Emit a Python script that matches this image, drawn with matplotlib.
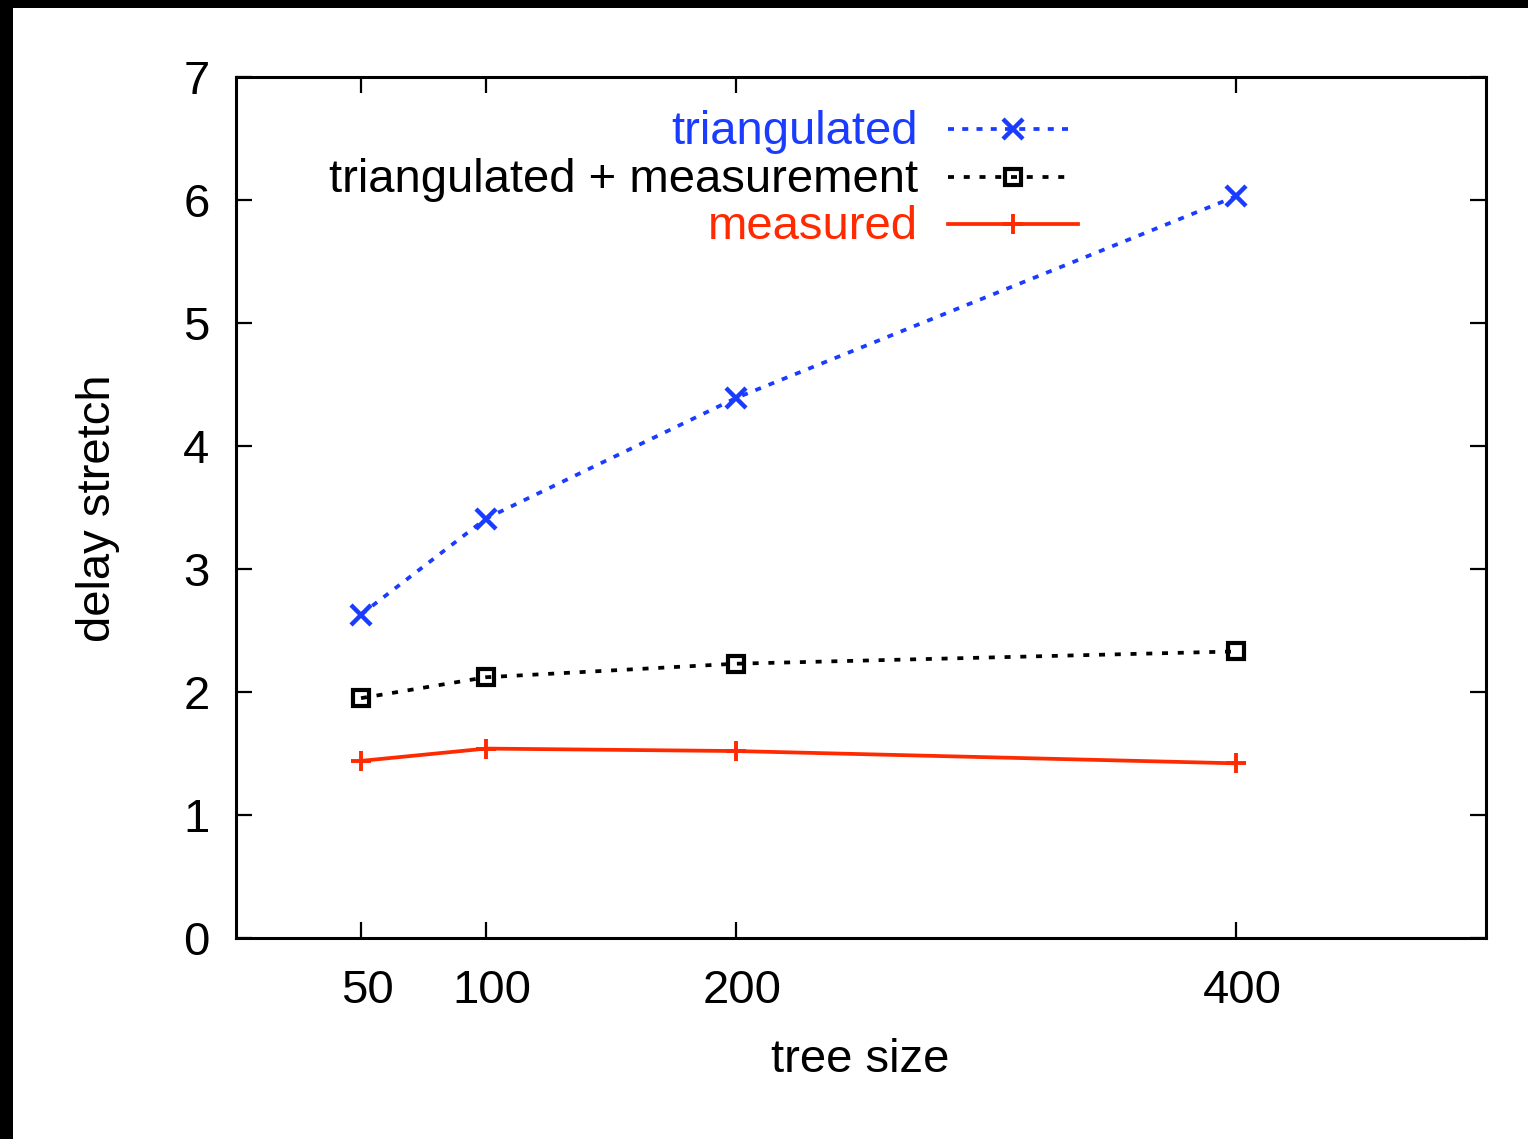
import matplotlib
matplotlib.use("Agg")
import matplotlib.pyplot as plt
from matplotlib.lines import Line2D
from matplotlib.transforms import ScaledTranslation

tree_size = [50, 100, 200, 400]
triangulated = [2.63, 3.41, 4.39, 6.03]
tri_plus_meas = [1.95, 2.12, 2.23, 2.33]
measured = [1.44, 1.54, 1.52, 1.42]
x_ticks = [50, 100, 200, 400]
y_ticks = [0, 1, 2, 3, 4, 5, 6, 7]
labels = ["triangulated", "triangulated + measurement", "measured"]

BLUE = "#1a3cff"
RED = "#ff2a00"
BLACK = "#000000"

plt.rcParams['font.family'] = ['Liberation Sans', 'DejaVu Sans']

W, H = 1528, 1139
dpi = 100
FS = 34
fig = plt.figure(figsize=(W / dpi, H / dpi), dpi=dpi, facecolor="black")
# white page area
bg = fig.add_axes([13 / W, 0, 1 - 13 / W, 1 - 8 / H], zorder=-5)
bg.set_facecolor("white")
bg.set_xticks([])
bg.set_yticks([])
for s in bg.spines.values():
    s.set_visible(False)

ax = fig.add_axes([236 / W, 1 - 938 / H, (1486 - 236) / W, (938 - 77) / H], zorder=1)
ax.set_facecolor("white")
ax.set_xlim(0, 500)
ax.set_ylim(0, 7)
for s in ax.spines.values():
    s.set_linewidth(2.2)

lw = 2.7
blue_ls = (0, (1.6, 2.2))
black_ls = (0, (1.6, 2.6))
ax.plot(tree_size, triangulated, color=BLUE, lw=lw, linestyle=blue_ls,
        marker="x", markersize=14, markeredgewidth=3.2, clip_on=False)
ax.plot(tree_size, tri_plus_meas, color=BLACK, lw=lw, linestyle=black_ls,
        marker="s", markersize=12, markeredgewidth=3.0, markerfacecolor="none", clip_on=False)
ax.plot(tree_size, measured, color=RED, lw=lw, linestyle="-",
        marker="+", markersize=14, markeredgewidth=2.8, clip_on=False)

ax.set_xticks(x_ticks)
ax.set_xticklabels([str(v) for v in x_ticks])
ax.set_yticks(y_ticks)
ax.set_yticklabels([str(v) for v in y_ticks])
ax.tick_params(direction="in", length=11.5, width=1.6, labelsize=FS,
               top=True, right=True, pad=19)
ax.tick_params(axis="x", pad=22.5)
for lab in ax.get_xticklabels():
    lab.set_transform(lab.get_transform() + ScaledTranslation(6 / dpi, 0, fig.dpi_scale_trans))

fig.text(98 / W, 1 - 508 / H, "delay stretch", rotation=90, fontsize=FS,
         ha="center", va="center")
fig.text(860 / W, 1 - 1060 / H, "tree size", fontsize=FS, ha="center", va="center")

# legend (gnuplot style: text right-aligned, sample to the right)
rows_y = [129, 177, 224]
colors = [BLUE, BLACK, RED]
styles = [blue_ls, black_ls, "-"]
markers = [("x", 14, 3.2), ("s", 12, 3.0), ("+", 14, 2.8)]
ends = [1072, 1070, 1078]
for lab, yy, c, st, mk, xe in zip(labels, rows_y, colors, styles, markers, ends):
    fy = 1 - yy / H
    fig.text(918 / W, 1 - (yy + 3) / H, lab, color=c, fontsize=FS, ha="right", va="center")
    fig.add_artist(Line2D([948 / W, xe / W], [fy, fy], transform=fig.transFigure,
                          color=c, lw=lw, linestyle=st))
    m, ms, mew = mk
    fig.add_artist(Line2D([1013 / W], [fy], transform=fig.transFigure, color=c,
                          marker=m, markersize=ms, markeredgewidth=mew,
                          markerfacecolor="none" if m == "s" else c, linestyle="none"))

fig.savefig("out.png", dpi=dpi, facecolor=fig.get_facecolor())
